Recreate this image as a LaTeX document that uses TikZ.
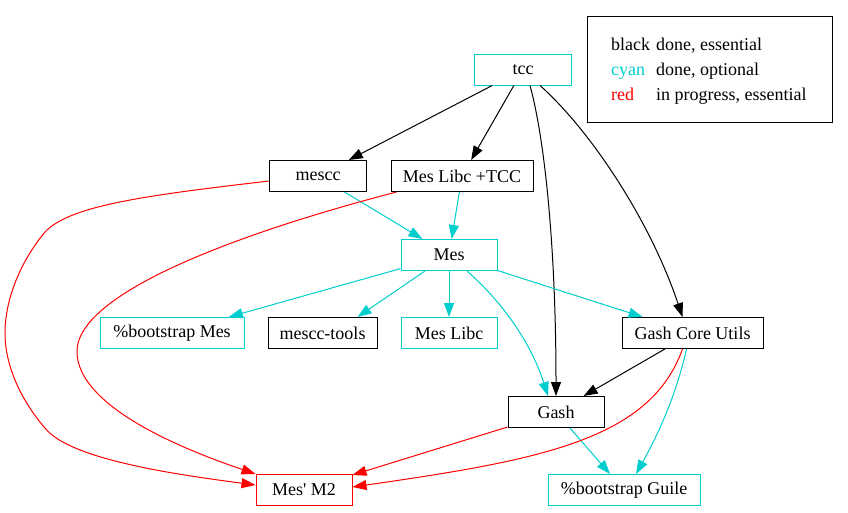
\documentclass[tikz,border=0pt]{standalone}
\usepackage{fontspec}
\setmainfont{Liberation Serif}
\usepackage{tikz}
\usetikzlibrary{arrows.meta}
\usepackage{xcolor}
\definecolor{cyanthree}{RGB}{0,205,205}

\begin{document}
\begin{tikzpicture}[x=1pt,y=-1pt,
		pkg/.style={draw,rectangle,minimum height=31pt,inner sep=2pt,line width=1pt,
			font=\fontsize{18}{21}\selectfont},
		done/.style={pkg,draw=black},
		opt/.style={pkg,draw=cyanthree},
		prog/.style={pkg,draw=red},
		dep/.style={line width=1pt,-{Triangle[length=14pt,width=10pt]}},
		legtext/.style={anchor=base west,inner sep=0pt,font=\fontsize{18}{21}\selectfont}]
		\begin{scope}
			\useasboundingbox (0,0) rectangle (848,512);
			% nodes
			\node[opt,minimum width=97pt] (tcc) at (523,69.5) {tcc};
			\node[done,minimum width=97pt] (mescc) at (318,176) {mescc};
			\node[done,minimum width=142pt] (libctcc) at (462,176) {Mes Libc +TCC};
			\node[opt,minimum width=96pt] (mes) at (449,255) {Mes};
			\node[opt,minimum width=144pt] (bootmes) at (172,333) {\%bootstrap Mes};
			\node[done,minimum width=109pt] (tools) at (322.5,333) {mescc-tools};
			\node[opt,minimum width=96pt] (libc) at (449,333) {Mes Libc};
			\node[done,minimum width=141pt] (core) at (692.5,333) {Gash Core Utils};
			\node[done,minimum width=96pt] (gash) at (556,412) {Gash};
			\node[prog,minimum width=96pt] (m2) at (304,490) {Mes\textquotesingle{} M2};
			\node[opt,minimum width=152pt] (bootguile) at (624,490) {\%bootstrap Guile};
			% legend
			\node[draw,line width=1pt,minimum width=245pt,minimum height=106pt] (legend) at (709.5,69) {};
			\node[legtext] (k1) at (611,50) {black};
			\node[legtext,text=cyanthree] (k2) at (611,75) {cyan};
			\node[legtext,text=red] (k3) at (611,100) {red};
			\node[legtext] (v1) at (656,50) {done, essential};
			\node[legtext] (v2) at (656,75) {done, optional};
			\node[legtext] (v3) at (656,100) {in progress, essential};
			% black edges
			\draw[dep] (tcc) -- (mescc);
			\draw[dep] (tcc) -- (libctcc);
			\draw[dep] ([xshift=7pt]tcc.south) .. controls (545,140) and (556,250) .. (gash.north);
			\draw[dep] ([xshift=17pt]tcc.south) .. controls (590,130) and (650,220) .. ([xshift=-10pt]core.north);
			\draw[dep] (core) -- (gash);
			% cyan edges
			\draw[dep,cyanthree] (mescc) -- (mes);
			\draw[dep,cyanthree] (libctcc) -- (mes);
			\draw[dep,cyanthree] (mes) -- (bootmes);
			\draw[dep,cyanthree] ([xshift=-24pt]mes.south) -- ([xshift=35pt]tools.north);
			\draw[dep,cyanthree] (mes) -- (libc);
			\draw[dep,cyanthree] (mes) -- (core);
			\draw[dep,cyanthree] ([xshift=18pt]mes.south) .. controls (500,300) and (530,340) .. ([xshift=-8pt]gash.north);
			\draw[dep,cyanthree] ([xshift=-6pt]core.south) .. controls (675,400) and (655,440) .. ([xshift=12pt]bootguile.north);
			\draw[dep,cyanthree] (gash) -- (bootguile);
			% red edges
			\draw[dep,red] ([yshift=-5pt]mescc.west) .. controls (150,195) and (70,205) .. (45,232)
				.. controls (20,262) and (5,300) .. (5,333)
				.. controls (5,370) and (25,405) .. (45,428)
				.. controls (70,460) and (180,475) .. ([yshift=5pt]m2.west);
			\draw[dep,red] ([xshift=6pt]libctcc.south west) .. controls (250,230) and (80,290) .. (77,350)
				.. controls (75,410) and (200,455) .. (m2.north west);
			\draw[dep,red] ([xshift=-10pt]core.south) .. controls (650,440) and (540,460) .. ([yshift=3pt]m2.east);
			\draw[dep,red] (gash) -- (m2);
		\end{scope}
	\end{tikzpicture}
\end{document}
